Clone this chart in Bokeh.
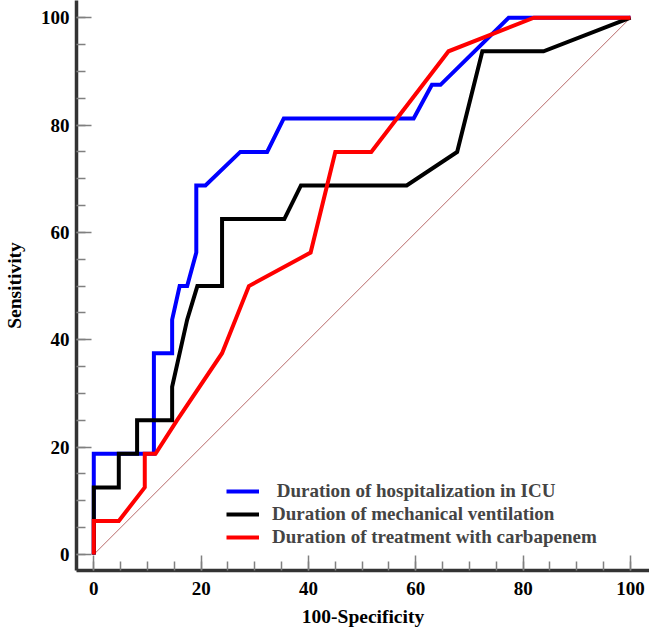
from bokeh.plotting import figure
from bokeh.models import Range1d, SingleIntervalTicker, Legend, LegendItem
from bokeh.embed import file_html
from bokeh.resources import INLINE

# ---- data ----
icu_x = [0, 0, 0, 11.2, 11.2, 14.6, 14.6, 16.0, 17.4, 19.1, 19.1, 20.8, 27.3, 32.3, 35.4, 59.6, 63.0, 64.6, 77.3, 100]
icu_y = [0, 12.5, 18.75, 18.75, 37.5, 37.5, 43.75, 50, 50, 56.25, 68.75, 68.75, 75, 75, 81.25, 81.25, 87.5, 87.5, 100, 100]

mv_x = [0, 0, 4.66, 4.66, 8.07, 8.07, 14.6, 14.6, 17.4, 19.3, 23.9, 23.9, 35.5, 38.6, 58.3, 67.7, 72.4, 83.8, 100]
mv_y = [0, 12.5, 12.5, 18.75, 18.75, 25, 25, 31.25, 43.75, 50, 50, 62.5, 62.5, 68.75, 68.75, 75, 93.75, 93.75, 100]

carb_x = [0, 0, 4.66, 9.5, 9.5, 11.5, 15.5, 23.9, 28.9, 40.4, 45.0, 51.7, 66.1, 82.0, 100]
carb_y = [0, 6.25, 6.25, 12.5, 18.75, 18.75, 25, 37.5, 50, 56.25, 75, 75, 93.75, 100, 100]

ref_x = [0, 100]
ref_y = [0, 100]

labels = ["\u00a0Duration of hospitalization in ICU",
          "Duration of mechanical ventilation",
          "Duration of treatment with carbapenem"]
colors = ["#0000ff", "#000000", "#ff0000"]

FONT = "Liberation Serif"

p = figure(width=649, height=629, output_backend="svg", toolbar_location=None,
           x_range=Range1d(-3.22, 103.54), y_range=Range1d(-2.98, 103.21),
           min_border_left=76, min_border_right=0, min_border_top=0, min_border_bottom=58)
p.outline_line_color = None
p.grid.visible = False
p.background_fill_color = "white"
p.border_fill_color = "white"

p.line(ref_x, ref_y, line_color="#b86a6a", line_width=1)

r1 = p.line(icu_x, icu_y, line_color=colors[0], line_width=4, line_join="miter")
r2 = p.line(mv_x, mv_y, line_color=colors[1], line_width=4, line_join="miter")
r3 = p.line(carb_x, carb_y, line_color=colors[2], line_width=4, line_join="miter")

for ax in (p.xaxis[0], p.yaxis[0]):
    ax.ticker = SingleIntervalTicker(interval=20, num_minor_ticks=4)
    ax.axis_line_width = 3.5
    ax.axis_line_color = "#333333"
    ax.major_tick_in = 15
    ax.major_tick_out = 0
    ax.minor_tick_in = 9
    ax.minor_tick_out = 0
    ax.major_tick_line_color = "#808080"
    ax.minor_tick_line_color = "#808080"
    ax.major_tick_line_width = 1.5
    ax.minor_tick_line_width = 1.5
    ax.major_label_text_font = FONT
    ax.major_label_text_font_style = "bold"
    ax.major_label_text_font_size = "19px"
    ax.major_label_text_color = "black"
    ax.axis_label_text_font = FONT
    ax.axis_label_text_font_style = "bold"
    ax.axis_label_text_font_size = "19.5px"
    ax.axis_label_text_color = "black"

p.xaxis.axis_label = "100-Specificity"
p.yaxis.axis_label = "Sensitivity"
p.xaxis.major_label_standoff = 11
p.yaxis.major_label_standoff = 7
p.xaxis.axis_label_standoff = 8
p.yaxis.axis_label_standoff = 13

legend = Legend(items=[LegendItem(label=labels[0], renderers=[r1]),
                       LegendItem(label=labels[1], renderers=[r2]),
                       LegendItem(label=labels[2], renderers=[r3])],
                location=(150, 22), padding=0, margin=0, spacing=1,
                glyph_width=33, glyph_height=20, label_height=20, label_standoff=13,
                label_text_font=FONT, label_text_font_style="bold",
                label_text_font_size="19px", border_line_alpha=0,
                background_fill_alpha=0)
p.add_layout(legend, "center")

open("out.html", "w").write(file_html(p, INLINE))
